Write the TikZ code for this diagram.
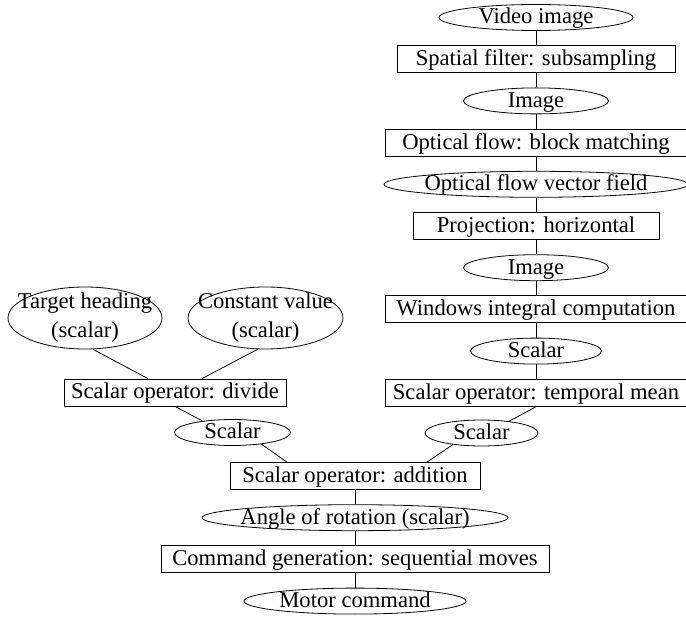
\documentclass[tikz,border=0pt]{standalone}
\usepackage{fontspec}
\setmainfont{Liberation Serif}
\usepackage{tikz}
\usetikzlibrary{shapes.geometric,positioning}

\tikzset{
  ell/.style={ellipse, draw, inner sep=0pt, minimum height=26pt},
  bigell/.style={ellipse, draw, inner sep=0pt, minimum height=62pt},
  box/.style={rectangle, draw, inner sep=0pt, minimum height=27pt,
    text height=17pt, text depth=4pt},
  lbl/.style={inner sep=0pt, text height=17pt, text depth=4pt},
  lbltwo/.style={inner sep=0pt, align=center}
}

\begin{document}
\begin{tikzpicture}[x=1pt, y=1pt, node distance=41.7pt, line width=0.8pt,
    font=\fontsize{22.6}{29}\selectfont]
    \useasboundingbox (0,0) rectangle (686,-617);

    % video pipeline
    \node[ell, minimum width=194pt, label={[lbl]center:Video image}] (video) at (536,-17.5) {};
    \node[box, minimum width=278pt] (spatial) [below of=video] {Spatial filter: subsampling};
    \node[ell, minimum width=145pt, label={[lbl]center:Image}] (img1) [below of=spatial] {};
    \node[box, minimum width=302pt] (block) [below of=img1] {Optical flow: block matching};
    \node[ell, minimum width=304pt, label={[lbl]center:Optical flow vector field}] (field) [below of=block] {};
    \node[box, minimum width=246pt] (proj) [below of=field] {Projection: horizontal};
    \node[ell, minimum width=145pt, label={[lbl]center:Image}] (img2) [below of=proj] {};
    \node[box, minimum width=302pt] (window) [below of=img2] {Windows integral computation};
    \node[ell, minimum width=131pt, label={[lbl]center:Scalar}] (sc1) [below of=window] {};
    \node[box, minimum width=302pt] (tmean) [below of=sc1] {Scalar operator: temporal mean};

    % heading branch
    \node[bigell, minimum width=154pt, label={[lbltwo]center:Target heading\\(scalar)}] (target) at (85,-318) {};
    \node[bigell, minimum width=155pt, label={[lbltwo]center:Constant value\\(scalar)}] (const) at (265.5,-318) {};
    \node[box, minimum width=222pt] (divide) at (175,-392.5) {Scalar operator: divide};
    \node[ell, minimum width=116pt, label={[lbl]center:Scalar}] (sc2) at (232.5,-432.5) {};
    \node[ell, minimum width=113pt, label={[lbl]center:Scalar}] (sc3) at (481.5,-433) {};

    % output
    \node[box, minimum width=250pt] (add) at (355,-476) {Scalar operator: addition};
    \node[ell, minimum width=306pt, label={[lbl]center:Angle of rotation (scalar)}] (angle) [below of=add] {};
    \node[box, minimum width=388pt] (cmd) [below of=angle] {Command generation: sequential moves};
    \node[ell, minimum width=222pt, label={[lbl]center:Motor command}] (motor) [below of=cmd] {};

    \path (video) edge (spatial)
          (spatial) edge (img1)
          (img1) edge (block)
          (block) edge (field)
          (field) edge (proj)
          (proj) edge (img2)
          (img2) edge (window)
          (window) edge (sc1)
          (sc1) edge (tmean)
          (target.-76) edge ([xshift=-27pt]divide.north)
          (const.-104) edge ([xshift=27pt]divide.north)
          (divide.south) edge (sc2.159)
          (tmean.south) edge (sc3.23)
          (sc2.-22) edge ([xshift=-68pt]add.north)
          (sc3.-158) edge ([xshift=72pt]add.north)
          (add) edge (angle)
          (angle) edge (cmd)
          (cmd) edge (motor);
\end{tikzpicture}
\end{document}
